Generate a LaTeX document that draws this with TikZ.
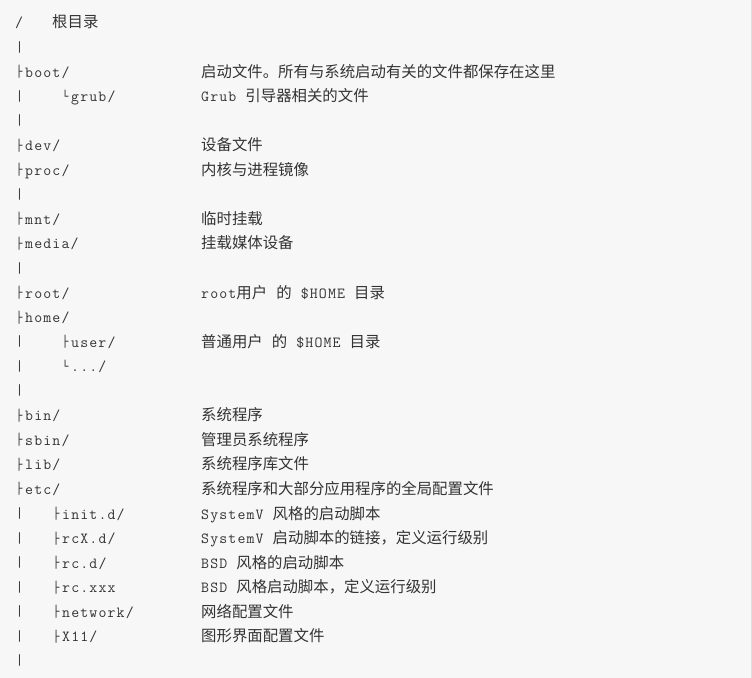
\documentclass[tikz,border=0pt]{standalone}
\usepackage{fontspec}
\setmainfont{Latin Modern Mono}[LetterSpace=7.5]
\newfontfamily\zh{Noto Sans CJK SC}
\newfontfamily\boxf{DejaVu Sans Mono}
\newcommand{\tee}{\raisebox{1.5pt}{\boxf\fontsize{11}{12}\selectfont ├}\kern2.7pt}
\newcommand{\elbow}{\raisebox{1.5pt}{\boxf\fontsize{11}{12}\selectfont └}\kern2.7pt}
\definecolor{ink}{HTML}{333333}
\definecolor{paper}{HTML}{F7F7F7}
\definecolor{rim}{HTML}{E0E0E0}

\begin{document}
\begin{tikzpicture}[x=1pt, y=-24.55pt,
    every node/.style={font=\fontsize{15.4}{18}\selectfont, text=ink,
                       inner sep=0pt, anchor=base west, yshift=-5.5pt},
    bar/.style={font=\boxf\fontsize{11.5}{12}\selectfont, yshift=2.5pt},
    entry/.style={},
    desc/.style={}
]
  % Fondo del bloque de codigo
  \fill[paper] (0,-0.9165) rectangle (752,26.70);
  \useasboundingbox (0,-0.9165) rectangle (752,26.70);
  \draw[rim, line width=1pt] (0,-0.9165) -- (751.5,-0.9165) -- (751.5,26.70);

  % Raiz
  \node[entry] (n-root) at (15,0) {/};
  \node[desc] (d-root) at (52,0) {\zh 根目录};
  \node[bar] (b1) at (16,1) {|};

  % Arranque
  \node[entry] (n-boot) at (15.7,2) {\tee boot/};
  \node[desc] (d-boot) at (201,2) {\zh 启动文件。所有与系统启动有关的文件都保存在这里};
  \node[bar] (b3) at (16,3) {|};
  \node[entry] (n-grub) at (61.7,3) {\elbow grub/};
  \node[desc] (d-grub) at (201,3) {Grub {\zh 引导器相关的文件}};
  \node[bar] (b4) at (16,4) {|};

  % Dispositivos y procesos
  \node[entry] (n-dev) at (15.7,5) {\tee dev/};
  \node[desc] (d-dev) at (201,5) {\zh 设备文件};
  \node[entry] (n-proc) at (15.7,6) {\tee proc/};
  \node[desc] (d-proc) at (201,6) {\zh 内核与进程镜像};
  \node[bar] (b7) at (16,7) {|};

  % Montajes
  \node[entry] (n-mnt) at (15.7,8) {\tee mnt/};
  \node[desc] (d-mnt) at (201,8) {\zh 临时挂载};
  \node[entry] (n-media) at (15.7,9) {\tee media/};
  \node[desc] (d-media) at (201,9) {\zh 挂载媒体设备};
  \node[bar] (b10) at (16,10) {|};

  % Usuarios
  \node[entry] (n-rootdir) at (15.7,11) {\tee root/};
  \node[desc] (d-rootdir) at (201,11) {root{\zh 用户} {\zh 的} \$HOME {\zh 目录}};
  \node[entry] (n-home) at (15.7,12) {\tee home/};
  \node[bar] (b13) at (16,13) {|};
  \node[entry] (n-user) at (61.7,13) {\tee user/};
  \node[desc] (d-user) at (201,13) {{\zh 普通用户} {\zh 的} \$HOME {\zh 目录}};
  \node[bar] (b14) at (16,14) {|};
  \node[entry] (n-more) at (61.7,14) {\elbow .../};
  \node[bar] (b15) at (16,15) {|};

  % Programas
  \node[entry] (n-bin) at (15.7,16) {\tee bin/};
  \node[desc] (d-bin) at (201,16) {\zh 系统程序};
  \node[entry] (n-sbin) at (15.7,17) {\tee sbin/};
  \node[desc] (d-sbin) at (201,17) {\zh 管理员系统程序};
  \node[entry] (n-lib) at (15.7,18) {\tee lib/};
  \node[desc] (d-lib) at (201,18) {\zh 系统程序库文件};

  % Configuracion
  \node[entry] (n-etc) at (15.7,19) {\tee etc/};
  \node[desc] (d-etc) at (201,19) {\zh 系统程序和大部分应用程序的全局配置文件};
  \node[bar] (b20) at (16,20) {|};
  \node[entry] (n-init) at (52.7,20) {\tee init.d/};
  \node[desc] (d-init) at (201,20) {SystemV {\zh 风格的启动脚本}};
  \node[bar] (b21) at (16,21) {|};
  \node[entry] (n-rcx) at (52.7,21) {\tee rcX.d/};
  \node[desc] (d-rcx) at (201,21) {SystemV {\zh 启动脚本的链接，定义运行级别}};
  \node[bar] (b22) at (16,22) {|};
  \node[entry] (n-rcd) at (52.7,22) {\tee rc.d/};
  \node[desc] (d-rcd) at (201,22) {BSD {\zh 风格的启动脚本}};
  \node[bar] (b23) at (16,23) {|};
  \node[entry] (n-rcxxx) at (52.7,23) {\tee rc.xxx};
  \node[desc] (d-rcxxx) at (201,23) {BSD {\zh 风格启动脚本，定义运行级别}};
  \node[bar] (b24) at (16,24) {|};
  \node[entry] (n-net) at (52.7,24) {\tee network/};
  \node[desc] (d-net) at (201,24) {\zh 网络配置文件};
  \node[bar] (b25) at (16,25) {|};
  \node[entry] (n-x11) at (52.7,25) {\tee X11/};
  \node[desc] (d-x11) at (201,25) {\zh 图形界面配置文件};
  \node[bar] (b26) at (16,26) {|};
\end{tikzpicture}
\end{document}
